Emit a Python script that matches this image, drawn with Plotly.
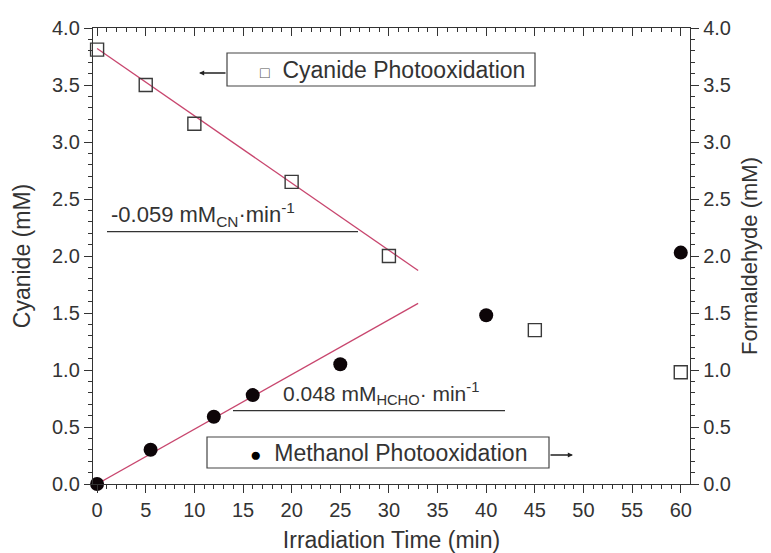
import plotly.graph_objects as go

# ---- data ----
time_cn = [0, 5, 10, 20, 30, 45, 60]
cyanide = [3.81, 3.50, 3.16, 2.65, 2.00, 1.35, 0.98]

time_meoh = [0, 5.5, 12, 16, 25, 40, 60]
formaldehyde = [0.0, 0.30, 0.59, 0.78, 1.05, 1.48, 2.03]

# linear fits (slope, intercept, x-span of drawn fit)
cn_fit_slope, cn_fit_intercept = -0.059, 3.82
hcho_fit_slope, hcho_fit_intercept = 0.048, 0.0
fit_x = [0, 33]

x_tick_step = 5
y_tick_step = 0.5

cn_fit_y = [cn_fit_intercept + cn_fit_slope * x for x in fit_x]
hcho_fit_y = [hcho_fit_intercept + hcho_fit_slope * x for x in fit_x]

FONT = "Liberation Sans, Arial, sans-serif"
AX = "#333333"
FIT = "#c8466e"

fig = go.Figure()

fig.add_trace(go.Scatter(x=fit_x, y=cn_fit_y, mode="lines",
                         line=dict(color=FIT, width=1.3), showlegend=False,
                         xaxis="x", yaxis="y"))
fig.add_trace(go.Scatter(x=fit_x, y=hcho_fit_y, mode="lines",
                         line=dict(color=FIT, width=1.3), showlegend=False,
                         xaxis="x", yaxis="y2"))
fig.add_trace(go.Scatter(x=time_cn, y=cyanide, mode="markers",
                         marker=dict(symbol="square-open", size=13,
                                     color="#3a3a3a", line=dict(width=1.4)),
                         cliponaxis=False, showlegend=False,
                         xaxis="x", yaxis="y"))
fig.add_trace(go.Scatter(x=time_meoh, y=formaldehyde, mode="markers",
                         marker=dict(symbol="circle", size=14, color="#0d0508"),
                         cliponaxis=False, showlegend=False,
                         xaxis="x", yaxis="y2"))
# invisible trace so the top (mirror) axis is drawn
fig.add_trace(go.Scatter(x=time_cn, y=cyanide, mode="markers",
                         marker=dict(opacity=0), hoverinfo="skip",
                         showlegend=False, xaxis="x2", yaxis="y"))

xr = [-0.42, 60.95]
yr = [0, 4]
minor_x = dict(dtick=1, ticklen=4, ticks="outside", tickcolor=AX, tickwidth=1)
minor_y = dict(dtick=0.1, ticklen=4, ticks="outside", tickcolor=AX, tickwidth=1)

common = dict(ticklen=8, tickwidth=1.2, tickcolor=AX, showline=True,
              linecolor=AX, linewidth=1.4, showgrid=False, zeroline=False,
              automargin=False)

# body has an 8px default margin in the page, so the figure is 8px smaller
fig.update_layout(
    template="none",
    width=763, height=545,
    margin=dict(l=85, r=81, t=20, b=69),
    paper_bgcolor="white", plot_bgcolor="white",
    font=dict(family=FONT, color=AX),
    showlegend=False,
    xaxis=dict(range=xr, tick0=0, dtick=x_tick_step, ticks="outside",
               minor=minor_x, tickfont=dict(size=20, color=AX),
               title=dict(text="Irradiation Time (min)",
                          font=dict(size=23, color=AX), standoff=12),
               **common),
    xaxis2=dict(range=xr, overlaying="x", side="top", tick0=0,
                dtick=x_tick_step, ticks="inside", showticklabels=False,
                minor=dict(dtick=1, ticklen=4, ticks="inside", tickcolor=AX),
                **common),
    yaxis=dict(range=yr, tick0=0, dtick=y_tick_step, tickformat=".1f",
               ticks="outside", minor=minor_y,
               tickfont=dict(size=20, color=AX),
               title=dict(text="Cyanide (mM)", font=dict(size=23, color=AX),
                          standoff=14),
               **common),
    yaxis2=dict(range=yr, overlaying="y", side="right", tick0=0,
                dtick=y_tick_step, tickformat=".1f", ticks="outside",
                minor=minor_y, tickfont=dict(size=20, color=AX),
                title=dict(text="Formaldehyde (mM)",
                           font=dict(size=22, color=AX), standoff=11),
                **common),
)

W, H, L, T = 597.0, 456.0, 93.0, 28.0


def px(xp):
    return (xp - L) / W


def py(yp):
    return (T + H - yp) / H


# legend-like boxes
fig.add_shape(type="rect", xref="paper", yref="paper",
              x0=px(227), x1=px(535), y0=py(86), y1=py(53),
              line=dict(color="#444", width=1.2), fillcolor="white")
fig.add_shape(type="rect", xref="paper", yref="paper",
              x0=px(207), x1=px(549), y0=py(468), y1=py(437),
              line=dict(color="#444", width=1.2), fillcolor="white")

ann = []
ann.append(dict(xref="paper", yref="paper", x=px(392), y=py(70),
                xanchor="center", yanchor="middle", showarrow=False,
                text='<span style="font-size:16px;color:#555">□</span>  Cyanide Photooxidation',
                font=dict(size=23, color=AX)))
ann.append(dict(xref="paper", yref="paper", x=px(388), y=py(453),
                xanchor="center", yanchor="middle", showarrow=False,
                text='<span style="font-size:19px;color:#000">●</span>  Methanol Photooxidation',
                font=dict(size=23, color=AX)))
# arrows
ann.append(dict(xref="paper", yref="paper", x=px(199), y=py(73), ax=28, ay=0,
                text="", showarrow=True, arrowhead=2, arrowsize=0.8,
                arrowwidth=1.3, arrowcolor="#222"))
ann.append(dict(xref="paper", yref="paper", x=px(573), y=py(455), ax=-24, ay=0,
                text="", showarrow=True, arrowhead=2, arrowsize=0.8,
                arrowwidth=1.3, arrowcolor="#222"))
# slope labels
ann.append(dict(xref="paper", yref="paper", x=px(109), y=py(214),
                xanchor="left", yanchor="middle", showarrow=False,
                text="-0.059 mM<sub>CN</sub>·min<sup>-1</sup>",
                font=dict(size=22, color=AX)))
ann.append(dict(xref="paper", yref="paper", x=px(281), y=py(393),
                xanchor="left", yanchor="middle", showarrow=False,
                text="0.048 mM<sub>HCHO</sub>· min<sup>-1</sup>",
                font=dict(size=21, color=AX)))
fig.update_layout(annotations=ann)

fig.add_shape(type="line", xref="paper", yref="paper",
              x0=px(107), x1=px(358), y0=py(231.7), y1=py(231.7),
              line=dict(color="#333", width=1.2))
fig.add_shape(type="line", xref="paper", yref="paper",
              x0=px(233), x1=px(505), y0=py(410.7), y1=py(410.7),
              line=dict(color="#333", width=1.2))

fig.write_html("out.html")
